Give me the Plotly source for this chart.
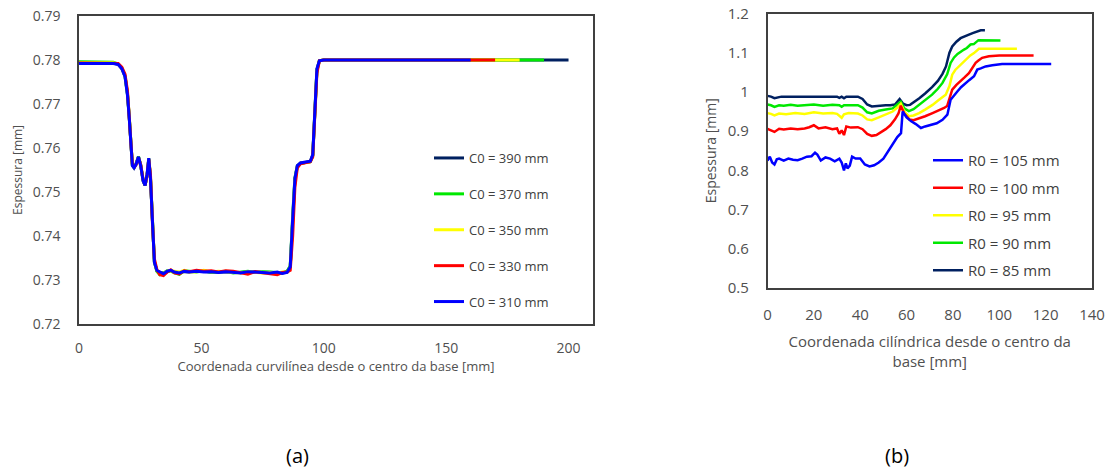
import plotly.graph_objects as go

# ---------------- (a) left chart data ----------------
XA = [0, 14, 16, 17.5, 18.8, 19.8, 20.5, 21.2, 21.8, 22.5,
      23.3, 24.3, 25.2, 26.2, 27, 27.8, 28.5, 29.2, 30, 30.8,
      31.8, 33, 34.5, 36, 37.5, 39, 41, 43, 45, 48,
      51, 54, 57, 60, 63, 66, 69, 72, 75, 78,
      81, 83, 85, 86.3, 87.3, 88.2, 89.2, 90.5, 92.5, 94.5,
      95.5, 96.3, 97.2, 98.2, 100]

A_LABELS = ["C0 = 390 mm", "C0 = 370 mm", "C0 = 350 mm", "C0 = 330 mm", "C0 = 310 mm"]
A_END_X = [200, 190, 180, 170, 160]
A_END_Y = [0.7800, 0.7800, 0.7800, 0.7800, 0.7800]

Y_C390 = [0.7793, 0.7793, 0.7790, 0.7781, 0.7764, 0.7723, 0.7673, 0.7604, 0.7561, 0.7555,
          0.7563, 0.7580, 0.7561, 0.7526, 0.7515, 0.7538, 0.7576, 0.7533, 0.7423, 0.7342,
          0.7321, 0.7317, 0.7316, 0.7319, 0.7321, 0.7318, 0.7317, 0.7319, 0.7318, 0.7320,
          0.7319, 0.7318, 0.7318, 0.7318, 0.7317, 0.7317, 0.7318, 0.7318, 0.7317, 0.7317,
          0.7317, 0.7316, 0.7318, 0.7330, 0.7435, 0.7528, 0.7559, 0.7566, 0.7567, 0.7569,
          0.7583, 0.7672, 0.7777, 0.7798, 0.7800]
Y_C370 = [0.7796, 0.7795, 0.7791, 0.7781, 0.7763, 0.7722, 0.7672, 0.7603, 0.7561, 0.7556,
          0.7564, 0.7581, 0.7561, 0.7526, 0.7515, 0.7538, 0.7576, 0.7532, 0.7422, 0.7341,
          0.7320, 0.7312, 0.7316, 0.7321, 0.7320, 0.7316, 0.7313, 0.7321, 0.7320, 0.7318,
          0.7321, 0.7317, 0.7318, 0.7320, 0.7316, 0.7318, 0.7320, 0.7317, 0.7319, 0.7318,
          0.7317, 0.7316, 0.7320, 0.7332, 0.7445, 0.7532, 0.7559, 0.7565, 0.7567, 0.7569,
          0.7583, 0.7676, 0.7778, 0.7798, 0.7800]
Y_C350 = [0.7794, 0.7794, 0.7791, 0.7782, 0.7765, 0.7725, 0.7675, 0.7606, 0.7562, 0.7556,
          0.7563, 0.7579, 0.7561, 0.7527, 0.7516, 0.7537, 0.7575, 0.7535, 0.7425, 0.7343,
          0.7322, 0.7316, 0.7315, 0.7320, 0.7321, 0.7319, 0.7318, 0.7322, 0.7318, 0.7319,
          0.7322, 0.7318, 0.7320, 0.7319, 0.7318, 0.7316, 0.7319, 0.7318, 0.7316, 0.7317,
          0.7316, 0.7318, 0.7317, 0.7328, 0.7430, 0.7525, 0.7558, 0.7565, 0.7567, 0.7569,
          0.7582, 0.7670, 0.7775, 0.7798, 0.7800]
Y_C330 = [0.7793, 0.7793, 0.7792, 0.7784, 0.7768, 0.7730, 0.7680, 0.7612, 0.7565, 0.7556,
          0.7562, 0.7578, 0.7562, 0.7528, 0.7516, 0.7536, 0.7574, 0.7540, 0.7430, 0.7348,
          0.7324, 0.7312, 0.7310, 0.7318, 0.7323, 0.7316, 0.7314, 0.7321, 0.7319, 0.7322,
          0.7320, 0.7321, 0.7318, 0.7321, 0.7320, 0.7317, 0.7313, 0.7319, 0.7317, 0.7314,
          0.7312, 0.7317, 0.7318, 0.7322, 0.7400, 0.7510, 0.7555, 0.7564, 0.7567, 0.7569,
          0.7580, 0.7660, 0.7770, 0.7798, 0.7800]
Y_C310 = [0.7792, 0.7792, 0.7790, 0.7780, 0.7762, 0.7720, 0.7670, 0.7600, 0.7560, 0.7555,
          0.7563, 0.7580, 0.7560, 0.7525, 0.7515, 0.7540, 0.7577, 0.7530, 0.7420, 0.7340,
          0.7322, 0.7318, 0.7314, 0.7320, 0.7322, 0.7318, 0.7316, 0.7320, 0.7318, 0.7320,
          0.7318, 0.7319, 0.7317, 0.7319, 0.7318, 0.7316, 0.7319, 0.7318, 0.7317, 0.7316,
          0.7318, 0.7315, 0.7317, 0.7330, 0.7440, 0.7530, 0.7560, 0.7566, 0.7568, 0.7570,
          0.7585, 0.7680, 0.7780, 0.7798, 0.7800]
A_SERIES = [Y_C390, Y_C370, Y_C350, Y_C330, Y_C310]

# ---------------- (b) right chart data ----------------
B_LABELS = ["R0 = 105 mm", "R0 = 100 mm", "R0 = 95 mm", "R0 = 90 mm", "R0 = 85 mm"]

X_R85 = [0, 1.5, 3, 4.5, 6, 10, 15, 20, 25, 30,
         31, 32, 33, 34, 36, 39, 41, 43, 45, 48,
         51, 53, 55, 56, 57, 58.5, 60, 61.5, 63.5, 65.5,
         68, 71, 73.5, 75.5, 77, 77.6, 78.5, 79.7, 81.5, 83.3,
         85, 86.9, 88.5, 90.5, 92, 93.8]
Y_R85 = [0.990, 0.988, 0.984, 0.986, 0.988, 0.988, 0.988, 0.988, 0.988, 0.988,
         0.985, 0.988, 0.984, 0.988, 0.988, 0.988, 0.982, 0.968, 0.963, 0.965,
         0.966, 0.966, 0.968, 0.975, 0.982, 0.970, 0.966, 0.967, 0.975, 0.984,
         0.996, 1.012, 1.028, 1.046, 1.065, 1.082, 1.100, 1.116, 1.128, 1.137,
         1.142, 1.146, 1.150, 1.155, 1.157, 1.157]

X_R90 = [0, 1.5, 3, 5, 7, 10, 13, 16, 20, 24,
         28, 31, 32, 33, 35, 39, 41, 43, 45, 48,
         51, 54, 56, 57.5, 59, 61, 63, 65.5, 68, 71,
         73.5, 75.5, 77.5, 79, 80.5, 82, 84.8, 86, 87.6, 89,
         91, 93, 96, 100.5]
Y_R90 = [0.968, 0.966, 0.962, 0.966, 0.965, 0.967, 0.965, 0.967, 0.968, 0.965,
         0.967, 0.966, 0.962, 0.966, 0.966, 0.966, 0.960, 0.948, 0.945, 0.952,
         0.955, 0.958, 0.968, 0.975, 0.958, 0.951, 0.956, 0.967, 0.978, 0.993,
         1.008, 1.023, 1.045, 1.074, 1.088, 1.097, 1.108, 1.112, 1.121, 1.122,
         1.132, 1.132, 1.131, 1.131]

X_R95 = [0, 1.5, 3, 5, 8, 12, 16, 20, 24, 28,
         30, 31, 32, 33, 35, 39, 41, 43, 45, 48,
         51, 54, 56, 57.5, 59, 61, 63, 65.4, 68, 71.2,
         74, 76.9, 78.5, 79.7, 81, 82.6, 84, 86.2, 87.5, 89.1,
         91.2, 95, 100, 107.6]
Y_R95 = [0.946, 0.944, 0.940, 0.945, 0.943, 0.946, 0.944, 0.948, 0.945, 0.946,
         0.944, 0.938, 0.934, 0.943, 0.946, 0.945, 0.940, 0.930, 0.928, 0.935,
         0.942, 0.950, 0.960, 0.970, 0.950, 0.938, 0.940, 0.946, 0.955, 0.967,
         0.980, 0.993, 1.015, 1.044, 1.056, 1.065, 1.074, 1.087, 1.093, 1.099,
         1.110, 1.110, 1.110, 1.110]

X_R100 = [0, 1.5, 3, 5, 7, 10, 13, 16, 18, 20,
          22, 25, 28, 30, 31, 32, 33, 34, 36, 39,
          41, 43, 45, 47, 49, 51, 53, 55, 56.5, 57.5,
          59, 61.2, 63, 65.4, 68, 71.2, 74, 76.2, 77.5, 78.3,
          79.7, 81.5, 83.3, 85, 86.9, 88.5, 89.8, 91, 92.6, 95.5,
          100, 105, 114.8]
Y_R100 = [0.906, 0.902, 0.898, 0.906, 0.904, 0.907, 0.905, 0.907, 0.910, 0.915,
          0.907, 0.910, 0.905, 0.907, 0.893, 0.902, 0.890, 0.912, 0.909, 0.910,
          0.905, 0.893, 0.888, 0.890, 0.897, 0.905, 0.915, 0.930, 0.945, 0.965,
          0.945, 0.930, 0.928, 0.932, 0.938, 0.946, 0.953, 0.959, 0.964, 0.980,
          1.006, 1.018, 1.027, 1.037, 1.048, 1.062, 1.074, 1.080, 1.087, 1.091,
          1.093, 1.093, 1.093]

X_R105 = [0, 1, 2, 3, 4, 5, 7, 9, 11, 13,
          15, 17, 19, 20.5, 21.5, 23, 25, 27, 29, 31,
          32, 33, 33.8, 34.5, 35.5, 36.5, 38, 40, 42, 44,
          46, 48, 50, 52, 54, 56, 57.6, 58.3, 60, 62,
          64, 66.2, 68, 71.2, 73, 75.5, 77.6, 79, 80.5, 81.9,
          83.5, 85.5, 87, 89.1, 90.5, 92, 94.1, 97, 101.2, 110,
          122.4]
Y_R105 = [0.825, 0.835, 0.820, 0.815, 0.828, 0.830, 0.825, 0.830, 0.827, 0.826,
          0.830, 0.835, 0.836, 0.845, 0.840, 0.825, 0.833, 0.830, 0.823, 0.830,
          0.820, 0.800, 0.818, 0.805, 0.812, 0.835, 0.830, 0.830, 0.815, 0.810,
          0.813, 0.820, 0.830, 0.848, 0.868, 0.885, 0.895, 0.950, 0.935, 0.925,
          0.918, 0.908, 0.912, 0.916, 0.920, 0.929, 0.942, 0.980, 0.992, 1.001,
          1.012, 1.023, 1.030, 1.040, 1.057, 1.060, 1.065, 1.068, 1.071, 1.071,
          1.071]

B_X = [X_R105, X_R100, X_R95, X_R90, X_R85]
B_Y = [Y_R105, Y_R100, Y_R95, Y_R90, Y_R85]

A_TICKS_X = [0, 50, 100, 150, 200]
A_TICKS_Y = [0.72, 0.73, 0.74, 0.75, 0.76, 0.77, 0.78, 0.79]
B_TICKS_X = [0, 20, 40, 60, 80, 100, 120, 140]
B_TICKS_Y = [0.5, 0.6, 0.7, 0.8, 0.9, 1.0, 1.1, 1.2]

A_COLORS = ["#002060", "#00E800", "#FFFF00", "#FF0000", "#0000FF"]
B_COLORS = ["#0000FF", "#FF0000", "#FFFF00", "#00E800", "#002060"]

# the page's default body margin is removed, so the figure fills the window
W, H = 1114, 474
FONT = "Open Sans"
TICKC = "#505050"
FRAME = "#404040"

fig = go.Figure()

for i, (lab, ys) in enumerate(zip(A_LABELS, A_SERIES)):
    fig.add_trace(go.Scatter(
        x=XA + [A_END_X[i]], y=ys + [A_END_Y[i]], mode="lines", name=lab,
        line=dict(color=A_COLORS[i], width=3), xaxis="x", yaxis="y",
        legend="legend", legendgroup="a%d" % i))

# draw (b) so the 85 mm line is on top; legend lists 105 first
for i in range(4, -1, -1):
    fig.add_trace(go.Scatter(
        x=B_X[i], y=B_Y[i], mode="lines", name=B_LABELS[i],
        line=dict(color=B_COLORS[i], width=2.5), xaxis="x2", yaxis="y2",
        legend="legend2", legendgroup="b%d" % i, legendrank=i + 1))


def px_x(p):
    return p / W


def px_y(p):
    return 1 - p / H


axis_common = dict(showgrid=False, zeroline=False, showline=True, mirror=True,
                   linecolor=FRAME, linewidth=1.5, ticks="", color=TICKC,
                   automargin=False)

fig.update_layout(
    width=W, height=H, margin=dict(l=0, r=0, t=0, b=0, autoexpand=False),
    paper_bgcolor="white", plot_bgcolor="white",
    font=dict(family=FONT, color=TICKC),
    xaxis=dict(domain=[px_x(79), px_x(593)], range=[0, 210], tickvals=A_TICKS_X,
               anchor="y", tickfont=dict(size=14), ticklabelstandoff=10,
               title=dict(text="Coordenada curvilínea desde o centro da base [mm]",
                          font=dict(size=13), standoff=2), **axis_common),
    yaxis=dict(domain=[px_y(324), px_y(16)], range=[0.72, 0.79], tickvals=A_TICKS_Y,
               tickformat=".2f", anchor="x", tickfont=dict(size=14), ticklabelstandoff=14,
               title=dict(text="Espessura [mm]", font=dict(size=12), standoff=8), **axis_common),
    xaxis2=dict(domain=[px_x(767.5), px_x(1092)], range=[0, 140], tickvals=B_TICKS_X,
                anchor="y2", tickfont=dict(size=15), ticklabelstandoff=12,
                title=dict(text="Coordenada cilíndrica desde o centro da<br>base [mm]",
                           font=dict(size=15), standoff=14), **axis_common),
    yaxis2=dict(domain=[px_y(288), px_y(13.5)], range=[0.5, 1.2], tickvals=B_TICKS_Y,
                anchor="x2", tickfont=dict(size=15), ticklabelstandoff=14,
                title=dict(text="Espessura [mm]", font=dict(size=14), standoff=8), **axis_common),
    legend=dict(x=px_x(429), y=px_y(143), xanchor="left", yanchor="top",
                bgcolor="rgba(0,0,0,0)", font=dict(size=13, color="#404040"),
                traceorder="grouped", tracegroupgap=16),
    legend2=dict(x=px_x(928), y=px_y(144), xanchor="left", yanchor="top",
                 bgcolor="rgba(0,0,0,0)", font=dict(size=15, color="#404040"),
                 traceorder="grouped", tracegroupgap=5),
    annotations=[
        dict(text="(a)", x=px_x(297), y=px_y(455), xref="paper", yref="paper",
             xanchor="center", yanchor="middle",
             showarrow=False, font=dict(size=20, color="#000000", family=FONT)),
        dict(text="(b)", x=px_x(897), y=px_y(455), xref="paper", yref="paper",
             xanchor="center", yanchor="middle",
             showarrow=False, font=dict(size=20, color="#000000", family=FONT)),
    ],
)

fig.write_html("out.html", config={"displayModeBar": False},
               post_script="document.body.style.margin='0';"
                           "document.body.style.overflow='hidden';")
